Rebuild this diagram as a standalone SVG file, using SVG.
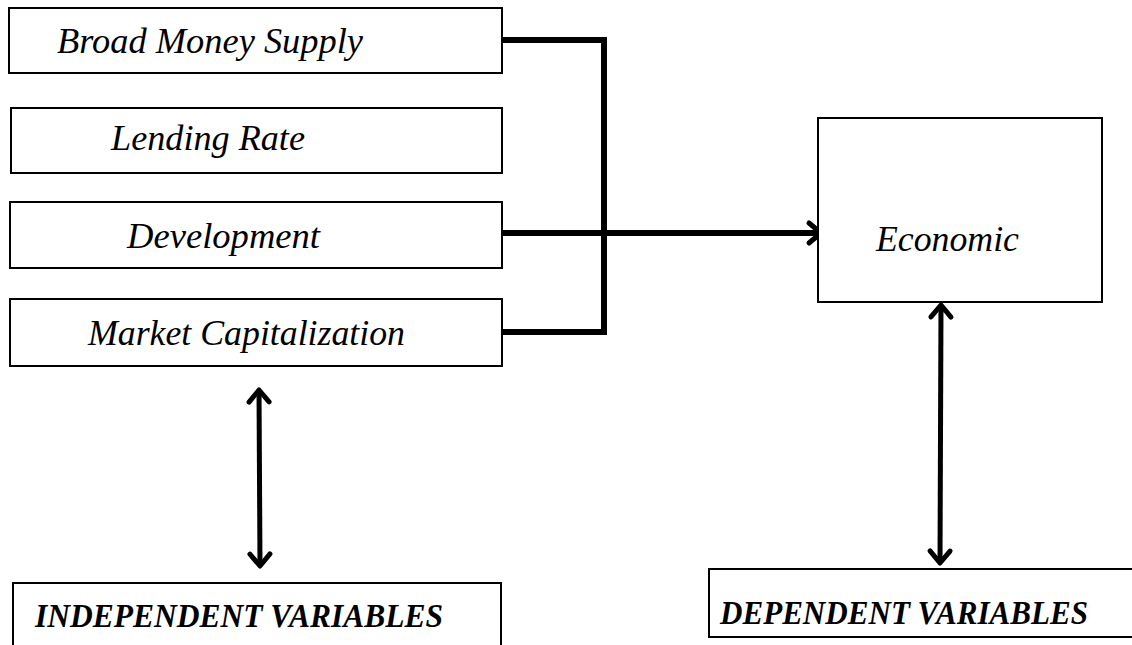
<svg xmlns="http://www.w3.org/2000/svg" width="1132" height="645" viewBox="0 0 1132 645">
  <style>
    .box { fill: #fff; stroke: #000; stroke-width: 2; }
    .lbl { font-family: "Liberation Serif", "DejaVu Serif", serif; font-style: italic; font-size: 35px; fill: #000; }
    .cap { font-family: "Liberation Serif", "DejaVu Serif", serif; font-style: italic; font-weight: bold; font-size: 33px; fill: #000; }
    .wire { fill: none; stroke: #000; stroke-width: 6; stroke-linecap: butt; stroke-linejoin: miter; }
    .arr { fill: none; stroke: #000; stroke-width: 5; }
  </style>
  <defs>
    <marker id="chev" markerUnits="userSpaceOnUse" markerWidth="30" markerHeight="30" viewBox="-15 -15 30 30" refX="0" refY="0" orient="auto-start-reverse" overflow="visible">
      <path d="M-12,-10 L0,0 L-12,10" fill="none" stroke="#000" stroke-width="5" stroke-linecap="round" stroke-linejoin="round"/>
    </marker>
  </defs>

  <g id="connectors">
    <path class="wire" d="M502,40 H604 V332 H502"/>
    <path class="wire" d="M502,233 H821" marker-end="url(#chev)"/>
    <path class="arr" d="M259,390 L260,566" marker-start="url(#chev)" marker-end="url(#chev)"/>
    <path class="arr" d="M941,305 L940,563" marker-start="url(#chev)" marker-end="url(#chev)"/>
  </g>

  <g id="node-broad-money">
    <rect class="box" x="9" y="8" width="493" height="65"/>
    <text class="lbl" x="57" y="53" textLength="306" lengthAdjust="spacingAndGlyphs">Broad Money Supply</text>
  </g>
  <g id="node-lending-rate">
    <rect class="box" x="11" y="108" width="491" height="65"/>
    <text class="lbl" x="111" y="150" textLength="194" lengthAdjust="spacingAndGlyphs">Lending Rate</text>
  </g>
  <g id="node-development">
    <rect class="box" x="10" y="202" width="492" height="66"/>
    <text class="lbl" x="127" y="248" textLength="193" lengthAdjust="spacingAndGlyphs">Development</text>
  </g>
  <g id="node-market-cap">
    <rect class="box" x="10" y="299" width="492" height="67"/>
    <text class="lbl" x="88" y="345" textLength="317" lengthAdjust="spacingAndGlyphs">Market Capitalization</text>
  </g>
  <g id="node-economic">
    <rect class="box" x="818" y="118" width="284" height="184"/>
    <text class="lbl" x="876" y="251" textLength="143" lengthAdjust="spacingAndGlyphs">Economic</text>
  </g>
  <g id="node-independent">
    <path class="box" d="M13,645 V583 H501 V645"/>
    <text class="cap" x="35" y="627" textLength="408" lengthAdjust="spacingAndGlyphs">INDEPENDENT VARIABLES</text>
  </g>
  <g id="node-dependent">
    <path class="box" d="M1132,569 H709 V637 H1132"/>
    <text class="cap" x="720" y="624" font-size="31" textLength="368" lengthAdjust="spacingAndGlyphs">DEPENDENT VARIABLES</text>
  </g>
</svg>
